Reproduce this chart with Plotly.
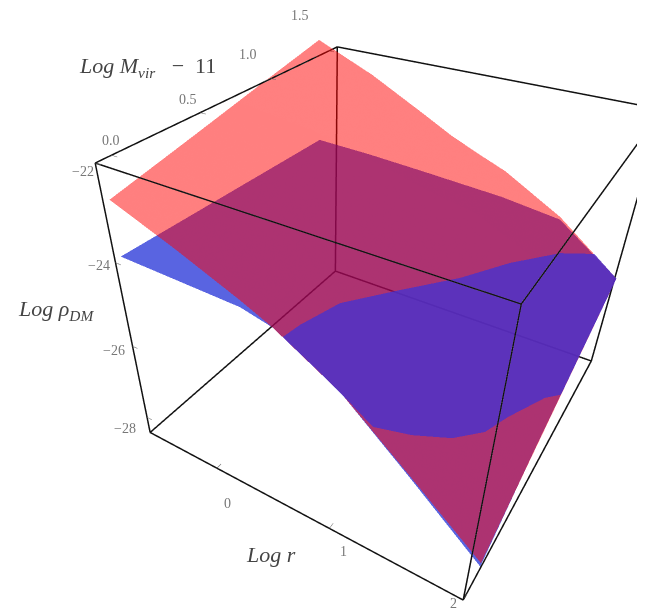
import plotly.graph_objects as go

log_r = [-0.78, -0.25, 0.25, 0.5, 0.75, 1, 1.5, 2.03]
log_m = [0, 0.5, 1, 1.5]

# rows follow log_m, columns follow log_r
red_z = [
    [-22.94, -23.49, -24.06, -24.38, -24.80, -25.22, -26.44, -27.77],
    [-22.56, -23.11, -23.71, -24.04, -24.41, -24.78, -25.84, -27.10],
    [-22.17, -22.74, -23.37, -23.70, -24.03, -24.34, -25.25, -26.43],
    [-21.79, -22.36, -23.02, -23.36, -23.64, -23.90, -24.65, -25.76],
]
blue_z = [
    [-24.16, -24.19, -24.22, -24.38, -24.80, -25.22, -26.48, -27.87],
    [-24.21, -24.24, -24.29, -24.41, -24.70, -24.75, -25.80, -27.05],
    [-24.26, -24.30, -24.35, -24.43, -24.60, -24.77, -25.20, -26.40],
    [-24.31, -24.35, -24.42, -24.46, -24.50, -24.54, -24.71, -25.76],
]

# part of the blue sheet that lies above the red one
over_r = [
    [0.573, 0.585, 0.598, 0.686, 0.913, 1.159, 1.368, 1.615, 1.82, 2.03],
    [0.573, 0.826, 1.023, 1.217, 1.403, 1.591, 1.732, 1.807, 1.951, 2.03],
]
over_m = [
    [0, 0.045, 0.091, 0.291, 0.537, 0.81, 1.076, 1.339, 1.5, 1.5],
    [0, 0, 0, 0.012, 0.118, 0.245, 0.381, 0.512, 0.719, 0.792],
]
over_z = [
    [-24.50, -24.49, -24.48, -24.48, -24.62, -24.81, -24.92, -25.09, -25.31, -25.76],
    [-24.50, -24.92, -25.27, -25.73, -26.07, -26.37, -26.54, -26.55, -26.61, -26.68],
]

r_ticks = [0, 1, 2]
m_ticks = [0, 0.5, 1, 1.5]
m_tick_labels = ['0.0', '0.5', '1.0', '1.5']
rho_ticks = [-22, -24, -26, -28]
rho_tick_labels = ['−22', '−24', '−26', '−28']

# drawn frame
r_box = [-0.68, 2.0]
m_box = [-0.08, 1.58]
rho_box = [-28.47, -22]

# invisible scene axes, wider than the frame so nothing gets clipped at the edges
r_range = [-1.1625, 2.4125]
m_range = [-0.329, 1.829]
rho_range = [-29.4405, -21.0295]

# the page body has an 8px margin, so the figure fills what is left of the window
W, H = 637, 602
TICK = dict(family='Liberation Serif', size=14, color='#777777')
TITLE = dict(family='Liberation Serif', size=22, color='#444444')


def flat(color):
    return [[0, color], [1, color]]


def paper_label(text, px, py):
    return dict(text=text, x=(px - 8) / W, y=1 - (py - 8) / H, xref='paper', yref='paper',
                xanchor='center', yanchor='middle', showarrow=False, font=TITLE)


NO_LIGHT = dict(ambient=1, diffuse=0, specular=0, roughness=1, fresnel=0)

fig = go.Figure()
fig.add_trace(go.Surface(x=log_r, y=log_m, z=blue_z, colorscale=flat('rgb(0,17,209)'), opacity=0.65,
                         showscale=False, lighting=NO_LIGHT, hoverinfo='skip'))
fig.add_trace(go.Surface(x=log_r, y=log_m, z=red_z, colorscale=flat('rgb(255,0,0)'), opacity=0.5,
                         showscale=False, lighting=NO_LIGHT, hoverinfo='skip'))
fig.add_trace(go.Surface(x=over_r, y=over_m, z=over_z, colorscale=flat('rgb(72,50,206)'), opacity=0.8,
                         showscale=False, lighting=NO_LIGHT, hoverinfo='skip'))

xs, ys, zs = [], [], []
for a in m_box:
    for c in rho_box:
        xs += [r_box[0], r_box[1], None]
        ys += [a, a, None]
        zs += [c, c, None]
for a in r_box:
    for c in rho_box:
        xs += [a, a, None]
        ys += [m_box[0], m_box[1], None]
        zs += [c, c, None]
for a in r_box:
    for c in m_box:
        xs += [a, a, None]
        ys += [c, c, None]
        zs += [rho_box[0], rho_box[1], None]
fig.add_trace(go.Scatter3d(x=xs, y=ys, z=zs, mode='lines', line=dict(color='#111111', width=3),
                           showlegend=False, hoverinfo='skip'))

# short tick marks on the labelled edges
tx, ty, tz = [], [], []
for v in r_ticks:
    tx += [v, v, None]
    ty += [m_box[0], m_box[0] + 0.03, None]
    tz += [rho_box[0], rho_box[0], None]
for v in m_ticks:
    tx += [r_box[0], r_box[0] + 0.05, None]
    ty += [v, v, None]
    tz += [rho_box[1], rho_box[1], None]
for v in rho_ticks:
    tx += [r_box[0], r_box[0] + 0.05, None]
    ty += [m_box[0], m_box[0], None]
    tz += [v, v, None]
fig.add_trace(go.Scatter3d(x=tx, y=ty, z=tz, mode='lines', line=dict(color='#666666', width=1),
                           showlegend=False, hoverinfo='skip'))

r_shift = [(11, -35), (14, -23), (-10, -3)]
m_shift = [(0, 15), (-12, 13), (-23, 24), (-29, 35)]
rho_shift = [(-12, -8), (-16, -3), (-19, -4), (-22, -11)]

labels = []
for v, s in zip(r_ticks, r_shift):
    labels.append(dict(x=v, y=m_box[0], z=rho_box[0], text=str(v), xshift=s[0], yshift=s[1]))
for v, t, s in zip(m_ticks, m_tick_labels, m_shift):
    labels.append(dict(x=r_box[0], y=v, z=rho_box[1], text=t, xshift=s[0], yshift=s[1]))
for v, t, s in zip(rho_ticks, rho_tick_labels, rho_shift):
    labels.append(dict(x=r_box[0], y=m_box[0], z=v, text=t, xshift=s[0], yshift=s[1]))
for a in labels:
    a.update(showarrow=False, font=TICK)

axis = dict(showbackground=False, showgrid=False, zeroline=False, showspikes=False,
            showticklabels=False, ticks='', title='', showline=False)

fig.update_layout(
    width=W, height=H,
    margin=dict(l=0, r=0, t=0, b=0),
    paper_bgcolor='white',
    showlegend=False,
    scene=dict(
        domain=dict(x=[0, 1], y=[0, 1]),
        xaxis=dict(axis, range=r_range),
        yaxis=dict(axis, range=m_range),
        zaxis=dict(axis, range=rho_range),
        aspectmode='manual',
        aspectratio=dict(x=1.3, y=1.3013, z=1.089),
        camera=dict(
            projection=dict(type='perspective'),
            up=dict(x=0, y=0, z=1),
            center=dict(x=0.3123, y=-0.7878, z=0.5123),
            eye=dict(x=0.7474, y=-1.4656, z=1.1049),
        ),
        annotations=labels,
    ),
    annotations=[
        paper_label('<i>Log M<sub>vir</sub></i>\u00a0\u00a0\u00a0−\u00a0\u00a011', 147, 67),
        paper_label('<i>Log\u00a0ρ<sub>DM</sub></i>', 56, 310),
        paper_label('<i>Log r</i>', 271, 554),
    ],
)

fig.write_html("out.html")
